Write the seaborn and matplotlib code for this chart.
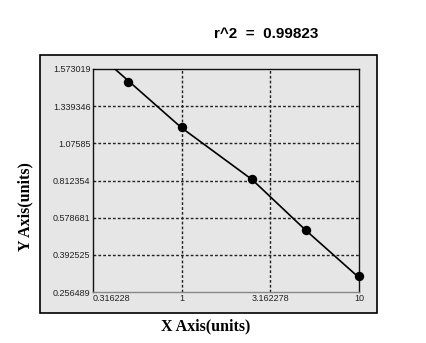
import numpy as np
import pandas as pd
import matplotlib
matplotlib.use("Agg")
import matplotlib.pyplot as plt
import matplotlib.patches as mpatches
import seaborn as sns

# ---- data ----
conc = [0.5, 1.0, 2.5, 5.0, 10.0]
od = [1.491, 1.189, 0.823, 0.515, 0.316]
fit_x = [0.41, 1.0, 2.5, 5.0, 10.0]
fit_y = [1.585, 1.186, 0.8177, 0.5154, 0.3082]
ytick_vals = [0.256489, 0.392525, 0.578681, 0.812354, 1.07585, 1.339346, 1.573019]
ytick_labels = ["0.256489", "0.392525", "0.578681", "0.812354", "1.07585", "1.339346", "1.573019"]
xtick_vals = [0.316228, 1.0, 3.162278, 10.0]
xtick_labels = ["0.316228", "1", "3.162278", "10"]
title_text = "r^2  =  0.99823"
xlabel_text = "X Axis(units)"
ylabel_text = "Y Axis(units)"

tv = np.array(ytick_vals)
tp = np.arange(len(tv), dtype=float)


def fwd(v):
    a = np.asarray(v, dtype=float)
    flat = np.atleast_1d(a).astype(float)
    out = np.interp(flat, tv, tp)
    lo = flat < tv[0]
    hi = flat > tv[-1]
    out[lo] = (flat[lo] - tv[0]) / (tv[1] - tv[0])
    out[hi] = tp[-1] + (flat[hi] - tv[-1]) / (tv[-1] - tv[-2])
    return out.reshape(a.shape) if a.shape else out[0]


def inv(p):
    a = np.asarray(p, dtype=float)
    flat = np.atleast_1d(a).astype(float)
    out = np.interp(flat, tp, tv)
    lo = flat < tp[0]
    hi = flat > tp[-1]
    out[lo] = tv[0] + flat[lo] * (tv[1] - tv[0])
    out[hi] = tv[-1] + (flat[hi] - tp[-1]) * (tv[-1] - tv[-2])
    return out.reshape(a.shape) if a.shape else out[0]


W, H = 427, 343
fig = plt.figure(figsize=(W / 100, H / 100), dpi=100, facecolor="white")

gray = "#e6e6e6"
# outer gray panel with black border
panel = mpatches.Rectangle((40 / W, 1 - 313 / H), 337 / W, 258 / H,
                           transform=fig.transFigure, facecolor=gray,
                           edgecolor="black", linewidth=1.2, zorder=-5)
fig.patches.append(panel)

ax = fig.add_axes([92.7 / W, 1 - 292 / H, (359.3 - 92.7) / W, (292 - 69) / H])
ax.set_zorder(2)
ax.set_facecolor(gray)
ax.set_xscale("log")
ax.set_yscale("function", functions=(fwd, inv))
ax.set_xlim(xtick_vals[0], xtick_vals[-1])
ax.set_ylim(ytick_vals[0], ytick_vals[-1])

df_pts = pd.DataFrame({"conc": conc, "od": od})
df_fit = pd.DataFrame({"x": fit_x, "y": fit_y})
sns.lineplot(data=df_fit, x="x", y="y", ax=ax, color="black", linewidth=1.2,
             sort=False, estimator=None, zorder=3)
sns.scatterplot(data=df_pts, x="conc", y="od", ax=ax, color="black", s=46,
                edgecolor="black", linewidth=0, zorder=4, clip_on=False)

# grid lines at interior ticks
for v in ytick_vals[1:-1]:
    ax.axhline(v, color="#222222", linestyle=(0, (2, 1.5)), linewidth=1.0, zorder=1)
for v in xtick_vals[1:-1]:
    ax.axvline(v, color="#222222", linestyle=(0, (2, 1.5)), linewidth=1.0, zorder=1)

ax.set_yticks(ytick_vals)
ax.set_yticklabels(ytick_labels, fontsize=6.5, family="Liberation Sans", color="#222222")
ax.set_xticks(xtick_vals)
ax.set_xticklabels(xtick_labels, fontsize=6.5, family="Liberation Sans", color="#222222")
ax.xaxis.set_minor_locator(matplotlib.ticker.NullLocator())
ax.yaxis.set_minor_locator(matplotlib.ticker.NullLocator())
ax.tick_params(axis="both", length=0, pad=1.5)
xl = ax.get_xticklabels()
xl[0].set_horizontalalignment("left")
ax.set_xlabel("")
ax.set_ylabel("")

for s in ["left", "top", "right"]:
    ax.spines[s].set_color("#111111")
    ax.spines[s].set_linewidth(1.0)
ax.spines["bottom"].set_color("#888888")
ax.spines["bottom"].set_linewidth(1.0)

fig.text(266 / W, 1 - 34 / H, title_text, ha="center", va="center",
         fontsize=11, fontweight="bold", family="Liberation Sans")
fig.text(206 / W, 1 - 326 / H, xlabel_text, ha="center", va="center",
         fontsize=11.5, fontweight="bold", family="Liberation Serif")
fig.text(25 / W, 1 - 207 / H, ylabel_text, ha="center", va="center",
         rotation=90, fontsize=11.5, fontweight="bold", family="Liberation Serif")

fig.savefig("out.png", dpi=100, facecolor="white")
